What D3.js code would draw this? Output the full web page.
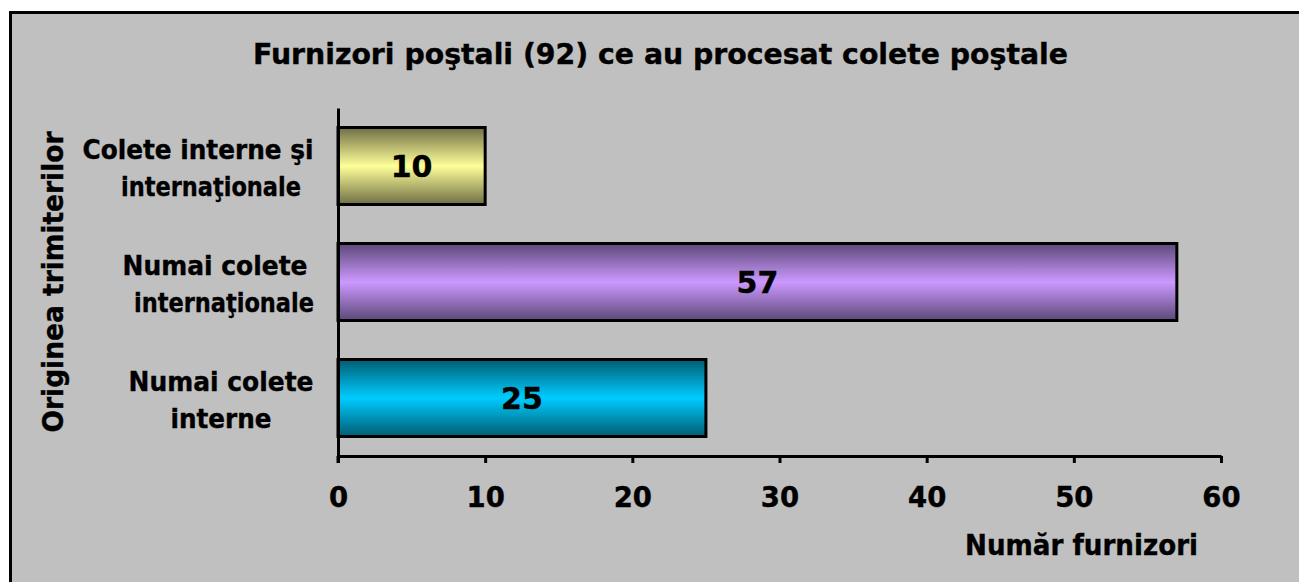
<!DOCTYPE html>
<html><head><meta charset="utf-8">
<script src="https://cdn.jsdelivr.net/npm/d3@7"></script>
<style>body{margin:0;background:#fff;}svg{display:block;}text{font-family:"DejaVu Sans",Verdana,sans-serif;font-weight:bold;fill:#000;stroke:#000;stroke-width:0.4px;}</style>
</head><body>
<script>
const categories = ["Colete interne şi internaţionale", "Numai colete internaţionale", "Numai colete interne"];
const categoryLines = [["Colete interne şi", "internaţionale"], ["Numai colete", "internaţionale"], ["Numai colete", "interne"]];
const values = [10, 57, 25];
const lightColors = ["#FFFF99", "#CC99FF", "#00CCFF"];
const darkColors = ["#6e6e46", "#5c4878", "#005c72"];
const xTicks = [0, 10, 20, 30, 40, 50, 60];
const titleText = "Furnizori poştali (92) ce au procesat colete poştale";
const xTitle = "Număr furnizori";
const yTitle = "Originea trimiterilor";
// layout: label line centres and widths (px)
const lineCenters = [[198, 211], [215, 224], [221, 221]];
const lineWidths = [[231, 180], [185, 180], [185, 101]];

const W = 1299, H = 582;
const svg = d3.select("body").append("svg").attr("width", W).attr("height", H);
const defs = svg.append("defs");
values.forEach((v, i) => {
  const g = defs.append("linearGradient").attr("id", "g" + i).attr("x1", 0).attr("y1", 0).attr("x2", 0).attr("y2", 1);
  g.append("stop").attr("offset", "0%").attr("stop-color", darkColors[i]);
  g.append("stop").attr("offset", "50%").attr("stop-color", lightColors[i]);
  g.append("stop").attr("offset", "100%").attr("stop-color", darkColors[i]);
});

svg.append("rect").attr("x", 10.5).attr("y", 12.5).attr("width", W + 20).attr("height", H + 20)
  .attr("fill", "#C0C0C0").attr("stroke", "#000").attr("stroke-width", 3);

const plot = {left: 338, right: 1221, top: 108, bottom: 456};
const x = d3.scaleLinear().domain([0, 60]).range([plot.left, plot.right]);
const y = d3.scaleBand().domain(categories).range([plot.top, plot.bottom]).paddingInner(39/116).paddingOuter(19.5/116);

svg.append("text").attr("x", 660.5).attr("y", 64).attr("text-anchor", "middle").attr("font-size", 28.5)
  .attr("textLength", 815).attr("lengthAdjust", "spacingAndGlyphs").text(titleText);

// bars
svg.selectAll("rect.bar").data(values).join("rect").attr("class", "bar")
  .attr("x", x(0)).attr("y", (d, i) => y(categories[i]))
  .attr("width", d => x(d) - x(0)).attr("height", y.bandwidth())
  .attr("fill", (d, i) => `url(#g${i})`).attr("stroke", "#000").attr("stroke-width", 3);

svg.selectAll("text.val").data(values).join("text").attr("class", "val")
  .attr("x", d => (x(d) + x(0)) / 2).attr("y", (d, i) => y(categories[i]) + y.bandwidth() / 2 + 11)
  .attr("text-anchor", "middle").attr("font-size", 30).text(d => d);

// x axis
const xAxis = d3.axisBottom(x).tickValues(xTicks).tickSize(7).tickSizeOuter(0).tickPadding(24);
const xg = svg.append("g").attr("transform", `translate(0,${plot.bottom})`).call(xAxis);
xg.select(".domain").attr("stroke", "#000").attr("stroke-width", 3);
xg.selectAll(".tick line").attr("stroke", "#000").attr("stroke-width", 3);
xg.selectAll(".tick text").attr("font-size", 27.5).attr("font-family", "DejaVu Sans").attr("font-weight", "bold").attr("fill", "#000");

// y axis line
const yAxis = d3.axisLeft(y).tickSize(0).tickFormat("");
const yg = svg.append("g").attr("transform", `translate(${plot.left},0)`).call(yAxis);
yg.select(".domain").attr("stroke", "#000").attr("stroke-width", 3);
svg.append("line").attr("x1", plot.left).attr("x2", plot.left).attr("y1", plot.bottom).attr("y2", plot.bottom + 7)
  .attr("stroke", "#000").attr("stroke-width", 3);

// category labels
categories.forEach((c, i) => {
  const cy = y(c) + y.bandwidth() / 2;
  categoryLines[i].forEach((ln, j) => {
    svg.append("text").attr("x", lineCenters[i][j]).attr("y", cy - 7 + j * 37)
      .attr("text-anchor", "middle").attr("font-size", 27)
      .attr("textLength", lineWidths[i][j]).attr("lengthAdjust", "spacingAndGlyphs").text(ln);
  });
});

svg.append("text").attr("x", 1081.5).attr("y", 555).attr("text-anchor", "middle").attr("font-size", 28)
  .attr("textLength", 233).attr("lengthAdjust", "spacingAndGlyphs").text(xTitle);
svg.append("text").attr("transform", `translate(63,${(plot.top + plot.bottom) / 2}) rotate(-90)`)
  .attr("text-anchor", "middle").attr("font-size", 28)
  .attr("textLength", 301).attr("lengthAdjust", "spacingAndGlyphs").text(yTitle);
</script>
</body></html>
